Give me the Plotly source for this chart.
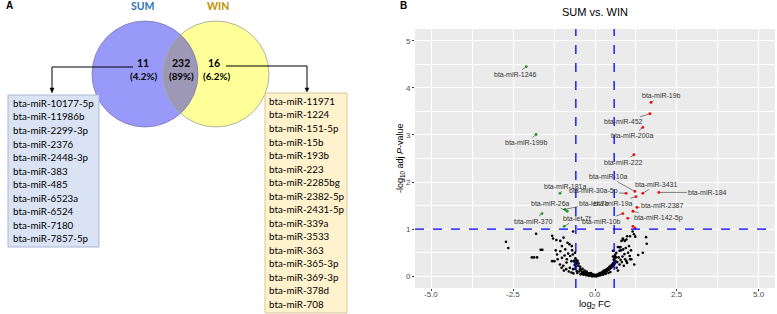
import numpy as np
import plotly.graph_objects as go

W, H = 777, 314

# ---------------- Panel A data (Venn) ----------------
venn_sets = ["SUM", "WIN"]
venn_counts = [11, 232, 16]
venn_pcts = ["4.2%", "89%", "6.2%"]
sum_only_mirnas = ["bta-miR-10177-5p", "bta-miR-11986b", "bta-miR-2299-3p", "bta-miR-2376",
                   "bta-miR-2448-3p", "bta-miR-383", "bta-miR-485", "bta-miR-6523a",
                   "bta-miR-6524", "bta-miR-7180", "bta-miR-7857-5p"]
win_only_mirnas = ["bta-miR-11971", "bta-miR-1224", "bta-miR-151-5p", "bta-miR-15b",
                   "bta-miR-193b", "bta-miR-223", "bta-miR-2285bg", "bta-miR-2382-5p",
                   "bta-miR-2431-5p", "bta-miR-339a", "bta-miR-3533", "bta-miR-363",
                   "bta-miR-365-3p", "bta-miR-369-3p", "bta-miR-378d", "bta-miR-708"]

# ---------------- Panel B data (volcano) ----------------
down_names = ["bta-miR-1246", "bta-miR-199b", "bta-miR-181a", "bta-miR-26a",
              "bta-let-7b", "bta-miR-370", "bta-let-7f"]
down_log2fc = [-2.10, -1.80, -1.07, -0.85, -0.92, -1.62, -0.94]
down_neglogp = [4.45, 3.01, 1.76, 1.38, 1.42, 1.33, 1.06]

up_names = ["bta-miR-19b", "bta-miR-452", "bta-miR-200a", "bta-miR-222", "bta-miR-10a",
            "bta-miR-3431", "bta-miR-184", "bta-miR-30a-5p", "bta-miR-19a", "bta-miR-2387",
            "bta-miR-142-5p", "bta-miR-10b"]
up_log2fc = [1.71, 1.68, 1.46, 1.19, 1.22, 1.46, 1.95, 0.95, 1.25, 1.28, 1.16, 0.85]
up_neglogp = [3.69, 3.45, 3.16, 2.58, 1.80, 1.76, 1.78, 1.76, 1.69, 1.46, 1.38, 1.33]

up_extra_log2fc = [1.00, 1.16, 1.22]
up_extra_neglogp = [1.23, 1.06, 1.02]

ns_log2fc = [
    -2.72, -2.65, -1.80, -1.93, -1.86, -1.77, -1.66, -1.61,
    -1.31, -1.28, -1.18, -1.06, -0.96, -0.84, -0.78, -0.71, -0.67,
    -1.01, -0.91, -1.06, -1.16, -1.24, -1.31, -1.14, -1.01, -0.86, -0.76, -0.68, -0.61,
    -1.07, -0.97, -0.87, -0.77, -0.67, -0.56, -0.72, -0.62, -0.51, -0.46, -0.36, -0.25, -0.15, -0.05,
    -0.58, -0.60, -0.55, -0.57, -0.59, -0.53, -0.62, -0.64, -0.50,
    -0.82, -0.93, -1.20, -0.70, -0.88, -0.80, -0.72, -0.66, -0.95, -1.02, -0.60, -0.54, -0.48,
    -0.45, -0.42, -0.40, -0.38, -0.34, -0.32, -0.30, -0.28, -0.26, -0.22, -0.20, -0.18, -0.16,
    -0.13, -0.12, -0.10, -0.08, -0.07, -0.05, -0.03, -0.02, 0.00, 0.01,
    0.03, 0.04, 0.06, 0.08, 0.10, 0.12, 0.14, 0.15, 0.18, 0.20, 0.22, 0.24, 0.26, 0.28, 0.30,
    0.32, 0.34, 0.36, 0.38, 0.40, 0.42, 0.44, 0.46, 0.48, 0.50, 0.52, 0.54, 0.56, 0.58, 0.60,
    0.57, 0.59, 0.62, 0.55, 0.61,
    0.65, 0.55, 0.60, 0.75, 0.86, 0.91, 0.81, 0.96, 0.86, 1.15, 1.19, 1.23, 1.56, 1.58,
    1.01, 1.06, 0.96, 1.11, 1.32, 1.46,
    0.70, 0.78, 0.80, 0.72, 0.68, 0.75, 0.82, 0.88, 0.92, 0.98, 1.04, 0.98, 1.07, 0.85,
    0.76, 1.07, 0.66, 0.70, 0.64, 0.62, 0.90, 0.94, 1.10, 1.20, 0.84, 0.78,
    -0.44, -0.35, -0.27, -0.19, -0.09, 0.05, 0.11, 0.17, 0.25, 0.33, 0.41, 0.47,
]
ns_neglogp = [
    0.73, 0.60, 0.90, 0.40, 0.40, 0.40, 0.56, 0.56,
    0.86, 0.80, 0.77, 0.75, 0.82, 0.71, 0.68, 0.64, 0.95,
    0.64, 0.57, 0.53, 0.46, 0.32, 0.32, 0.36, 0.39, 0.36, 0.43, 0.46, 0.50,
    0.25, 0.22, 0.29, 0.18, 0.15, 0.11, 0.32, 0.29, 0.22, 0.15, 0.09, 0.08, 0.04, 0.02,
    0.35, 0.38, 0.30, 0.26, 0.20, 0.33, 0.24, 0.33, 0.27,
    0.48, 0.44, 0.55, 0.55, 0.15, 0.10, 0.08, 0.06, 0.12, 0.18, 0.16, 0.07, 0.10,
    0.20, 0.12, 0.06, 0.16, 0.05, 0.12, 0.07, 0.03, 0.10, 0.05, 0.02, 0.06, 0.01,
    0.03, 0.07, 0.02, 0.00, 0.04, 0.01, 0.03, 0.00, 0.01, 0.03,
    0.00, 0.02, 0.01, 0.04, 0.02, 0.05, 0.03, 0.07, 0.04, 0.08, 0.05, 0.10, 0.06, 0.12, 0.09,
    0.13, 0.10, 0.15, 0.12, 0.17, 0.14, 0.20, 0.16, 0.22, 0.18, 0.25, 0.21, 0.28, 0.24, 0.31,
    0.35, 0.38, 0.33, 0.42, 0.27,
    0.50, 0.54, 0.43, 0.54, 0.57, 0.75, 0.75, 0.78, 0.78, 0.95, 0.89, 0.84, 0.83, 0.69,
    0.50, 0.43, 0.32, 0.36, 0.45, 0.50,
    0.62, 0.62, 0.55, 0.40, 0.30, 0.25, 0.30, 0.22, 0.36, 0.28, 0.64, 0.85, 0.85, 0.80,
    0.61, 0.36, 0.18, 0.12, 0.40, 0.46, 0.47, 0.60, 0.55, 0.25, 0.42, 0.35,
    0.04, 0.03, 0.02, 0.01, 0.00, 0.00, 0.01, 0.02, 0.03, 0.05, 0.07, 0.09,
]

fc_cutoff = 0.585
p_cutoff = 1.0
x_ticks = [-5.0, -2.5, 0.0, 2.5, 5.0]
y_ticks = [0, 1, 2, 3, 4, 5]

# label placement (data units) for ggrepel-like labels
label_xy = {
    "bta-miR-1246": (-2.44, 4.28), "bta-miR-199b": (-2.10, 2.84),
    "bta-miR-181a": (-0.91, 1.91), "bta-miR-26a": (-1.37, 1.55),
    "bta-let-7b": (-0.03, 1.55), "bta-miR-370": (-1.89, 1.17),
    "bta-let-7f": (-0.55, 1.23), "bta-miR-19b": (2.04, 3.83),
    "bta-miR-452": (0.88, 3.28), "bta-miR-200a": (1.16, 2.99),
    "bta-miR-222": (0.88, 2.42), "bta-miR-10a": (0.40, 2.12),
    "bta-miR-3431": (1.89, 1.95), "bta-miR-184": (3.45, 1.78),
    "bta-miR-30a-5p": (-0.06, 1.80), "bta-miR-19a": (0.55, 1.55),
    "bta-miR-2387": (2.07, 1.50), "bta-miR-142-5p": (1.95, 1.23),
    "bta-miR-10b": (0.21, 1.17),
}


def X(p):
    return p / W


def Y(p):
    return 1 - p / H


fig = go.Figure()

fig.add_trace(go.Scatter(x=ns_log2fc, y=ns_neglogp, mode="markers",
                         marker=dict(color="black", size=2.6), hoverinfo="skip"))
fig.add_trace(go.Scatter(x=up_log2fc + up_extra_log2fc, y=up_neglogp + up_extra_neglogp,
                         mode="markers", marker=dict(color="#FF0000", size=2.8)))
fig.add_trace(go.Scatter(x=down_log2fc, y=down_neglogp, mode="markers",
                         marker=dict(color="#1E9A1E", size=2.8)))

annotations = []
lab_font = dict(family="Liberation Sans, Arial", size=7, color="#333333")
for names, xs, ys in [(down_names, down_log2fc, down_neglogp), (up_names, up_log2fc, up_neglogp)]:
    for n, xv, yv in zip(names, xs, ys):
        lx, ly = label_xy[n]
        annotations.append(dict(x=xv, y=yv, xref="x", yref="y", ax=lx, ay=ly,
                                axref="x", ayref="y", text=n, showarrow=True,
                                arrowhead=0, arrowwidth=0.6, arrowcolor="#333333",
                                standoff=1, font=lab_font))


def note(px, py, text, size, color="black", family="Lato, Open Sans, sans-serif",
         xanchor="center", angle=0):
    return dict(x=X(px), y=Y(py), xref="paper", yref="paper", text=text, showarrow=False,
                xanchor=xanchor, yanchor="middle", textangle=angle,
                font=dict(family=family, size=size, color=color))


# x tick labels (placed on the x scale)
for v in x_ticks:
    annotations.append(dict(x=v, xref="x", y=Y(294), yref="paper", text=f"{v:.1f}",
                            showarrow=False, xanchor="center", yanchor="middle",
                            font=dict(family="Liberation Sans, Arial", size=8, color="#4D4D4D")))

shapes = []
# threshold lines
for v in (-fc_cutoff, fc_cutoff):
    shapes.append(dict(type="line", xref="x", yref="y domain", x0=v, x1=v, y0=0, y1=1,
                       line=dict(color="#0000FF", width=1.3, dash="dash")))
shapes.append(dict(type="line", xref="x domain", yref="y", x0=0, x1=1, y0=p_cutoff, y1=p_cutoff,
                   line=dict(color="#0000FF", width=1.3, dash="dash")))

# ---------- Venn (pixel geometry -> paper) ----------
cl, cr, cy, r = 145.0, 216.0, 74.0, 53.0


def circ(cx, fill, line):
    return dict(type="circle", xref="paper", yref="paper", x0=X(cx - r), x1=X(cx + r),
                y0=Y(cy + r), y1=Y(cy - r), fillcolor=fill, line=line, layer="above")


shapes.append(circ(cl, "#9999FA", dict(width=0)))
shapes.append(circ(cr, "#FFFF99", dict(width=0)))
d = cr - cl
th = np.arccos((d / 2) / r)
a1 = np.linspace(-th, th, 40)
a2 = np.linspace(np.pi + th, np.pi - th, 40)
pts = [(cl + r * np.cos(a), cy + r * np.sin(a)) for a in a1] + \
      [(cr + r * np.cos(a), cy + r * np.sin(a)) for a in a2]
path = "M " + " L ".join(f"{X(px):.5f},{Y(py):.5f}" for px, py in pts) + " Z"
shapes.append(dict(type="path", xref="paper", yref="paper", path=path,
                   fillcolor="#9D98B6", line=dict(width=0)))
shapes.append(circ(cl, "rgba(0,0,0,0)", dict(color="#7A7AB8", width=0.8)))
shapes.append(circ(cr, "rgba(0,0,0,0)", dict(color="#A0A0A0", width=0.8)))


def pth(points):
    return "M " + " L ".join(f"{X(px):.5f},{Y(py):.5f}" for px, py in points)


# connectors
shapes.append(dict(type="path", xref="paper", yref="paper",
                   path=pth([(133, 67), (52, 67), (52, 89)]), line=dict(color="black", width=1)))
shapes.append(dict(type="path", xref="paper", yref="paper",
                   path=pth([(50, 88), (54, 88), (52, 93)]) + " Z",
                   fillcolor="black", line=dict(color="black", width=0.5)))
shapes.append(dict(type="path", xref="paper", yref="paper",
                   path=pth([(226, 66), (307, 66), (307, 89)]), line=dict(color="black", width=1)))
shapes.append(dict(type="path", xref="paper", yref="paper",
                   path=pth([(305, 88), (309, 88), (307, 92)]) + " Z",
                   fillcolor="black", line=dict(color="black", width=0.5)))

# list boxes
shapes.append(dict(type="rect", xref="paper", yref="paper", x0=X(8), x1=X(99), y0=Y(247), y1=Y(95),
                   fillcolor="#DAE3F3", line=dict(color="#A9B7D3", width=1)))
shapes.append(dict(type="rect", xref="paper", yref="paper", x0=X(265), x1=X(347), y0=Y(313), y1=Y(93),
                   fillcolor="#FFF2CC", line=dict(color="#D6C79B", width=1)))

for i, m in enumerate(sum_only_mirnas):
    annotations.append(note(11, 103 + 13.5 * i, m, 9.8, xanchor="left"))
for i, m in enumerate(win_only_mirnas):
    annotations.append(note(267, 101 + 13.5 * i, m, 9.8, xanchor="left"))

# set names and counts
annotations.append(note(143, 6, f"<b>{venn_sets[0]}</b>", 10.5, color="#2E75B6"))
annotations.append(note(218, 6, f"<b>{venn_sets[1]}</b>", 10.5, color="#BF9000"))
for cxp, cnt, pct in zip([143, 181, 214], venn_counts, venn_pcts):
    annotations.append(note(cxp, 63, f"<b>{cnt}</b>", 10.5))
    annotations.append(note(cxp + (2 if cnt == 16 else 0), 76, f"<b>({pct})</b>", 9.8))

# panel letters
annotations.append(note(4, 6, "<b>A</b>", 10, family="Liberation Sans, Arial", xanchor="left"))
annotations.append(note(398, 6, "<b>B</b>", 10, family="Liberation Sans, Arial", xanchor="left"))

# volcano title and axis titles
annotations.append(note(595, 12, "SUM vs. WIN", 11, family="Liberation Sans, Arial"))
annotations.append(note(595, 304, "log<sub>2</sub> FC", 9.5, family="Liberation Sans, Arial"))
annotations.append(note(400, 158, "-log<sub>10</sub> adj <i>P</i>-value", 9,
                        family="Liberation Sans, Arial", angle=-90))

tickfont = dict(family="Liberation Sans, Arial", size=8, color="#4D4D4D")
fig.update_layout(
    width=W, height=H, margin=dict(l=0, r=0, t=0, b=0),
    paper_bgcolor="white", plot_bgcolor="#EBEBEB", showlegend=False,
    xaxis=dict(domain=[X(415), X(775)], range=[-5.5, 5.5], tickmode="array", tickvals=x_ticks,
               showticklabels=False, showgrid=True, gridcolor="white", gridwidth=1,
               minor=dict(tickvals=[-3.75, -1.25, 1.25, 3.75], showgrid=True, gridcolor="white",
                          gridwidth=0.5, ticks=""),
               zeroline=False, showline=False, ticks="outside", ticklen=2, tickcolor="#333333",
               fixedrange=True),
    yaxis=dict(domain=[Y(288), Y(29)], range=[-0.25, 5.25], tickmode="array", tickvals=y_ticks,
               showgrid=True, gridcolor="white", gridwidth=1,
               minor=dict(tickvals=[0.5, 1.5, 2.5, 3.5, 4.5], showgrid=True, gridcolor="white",
                          gridwidth=0.5, ticks=""),
               zeroline=False, showline=False, ticks="outside", ticklen=2, tickcolor="#333333",
               tickfont=tickfont, fixedrange=True),
    shapes=shapes, annotations=annotations,
)

fig.write_html("out.html", config={"displayModeBar": False},
               post_script="document.body.style.margin='0';document.body.style.overflow='hidden';")
